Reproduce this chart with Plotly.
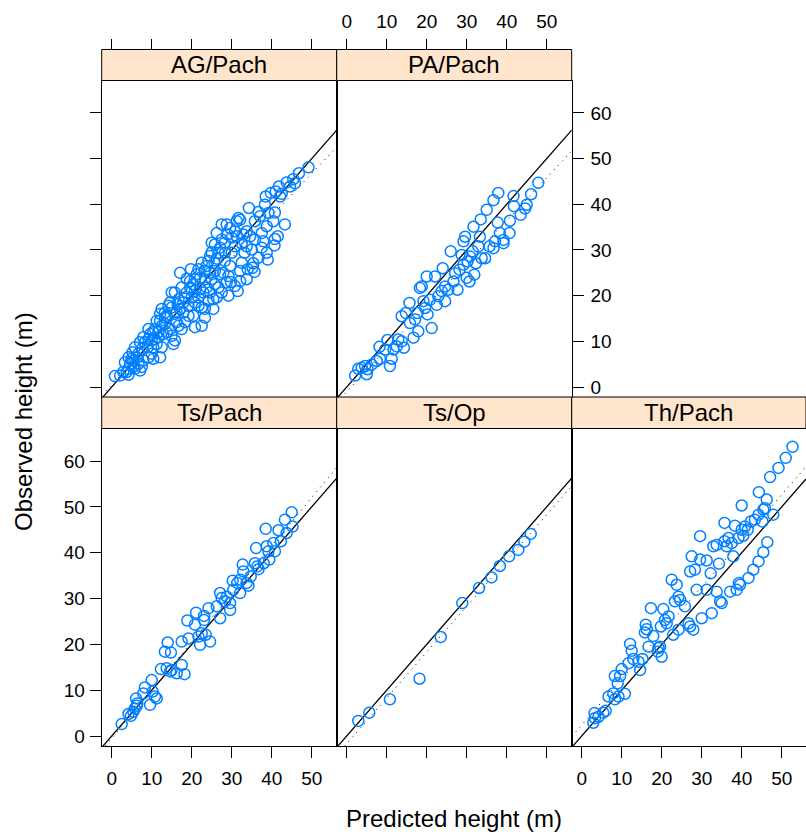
import plotly.graph_objects as go

# ---------------- data ----------------
panel_names = ["AG/Pach", "PA/Pach", "Ts/Pach", "Ts/Op", "Th/Pach"]

ag_pred = [49.2, 46.8, 45.4, 43.75, 41.8, 41.0, 42.5, 39.8, 38.5, 34.3, 36.7, 37.1, 39.2, 40.8, 43.3, 41.5,
           40.8, 40.7, 37.9, 37.5, 38.75, 36.7, 39.0, 35.4, 35.2, 35.7, 35.0, 35.8, 34.6, 33.75, 32.9, 32.1,
           31.7, 31.25, 30.8, 32.5, 33.2, 32.5, 32.1, 31.5, 29.6, 29.0, 28.3, 27.5, 27.1, 26.7, 30.0, 29.6,
           29.2, 29.8, 28.75, 26.25, 25.7, 25.0, 24.6, 24.2, 23.75, 23.2, 22.5, 21.7, 24.6, 25.0, 25.8, 26.7,
           27.1, 27.9, 28.3, 25.4, 24.2, 22.9, 22.1, 20.8, 19.8, 20.4, 19.6, 18.75, 18.3, 20.0, 20.8, 21.7,
           22.5, 23.3, 25.4, 20.8, 20.4, 19.2, 17.9, 17.1, 16.5, 15.8, 16.7, 14.6, 15.0, 15.8, 16.25, 15.4,
           13.75, 13.3, 12.5, 12.1, 11.25, 10.8, 11.7, 12.9, 13.75, 14.6, 15.0, 12.1, 9.6, 10.0, 9.2, 8.3,
           9.0, 10.4, 11.25, 12.5, 7.5, 6.7, 5.8, 6.25, 5.0, 4.6, 5.4, 4.2, 3.75, 6.7, 7.9, 9.2,
           10.0, 10.4, 7.5, 5.8, 2.9, 2.1, 0.8, 4.2, 7.1, 9.2, 10.4, 13.3, 18.75, 17.1, 19.6, 21.25,
           22.1, 15.8, 17.5, 18.3, 16.7, 22.5, 23.3, 24.6, 27.5, 26.25, 29.2, 30.8, 32.1, 33.75, 34.0, 30.0,
           27.5, 26.25, 28.75, 30.8, 33.75, 35.8, 37.5, 38.75, 40.4, 38.3, 42.1, 44.6, 45.8, 20.8, 17.5, 15.0,
           14.2, 12.5, 12.1, 13.3, 10.8, 11.7, 7.1, 7.9, 5.2, 4.2, 3.3, 5.4, 25.8, 23.3, 23.75, 21.7,
           19.2, 17.9, 16.25, 31.25, 28.3, 25.8, 25.0]
ag_obs = [48.1, 46.8, 45.5, 44.8, 43.9, 42.8, 42.3, 42.5, 41.7, 39.2, 38.3, 37.4, 38.1, 38.2, 35.6, 33.0,
          32.4, 31.0, 31.9, 30.5, 29.4, 28.3, 27.9, 27.1, 26.1, 25.2, 30.1, 32.3, 33.0, 34.1, 33.4, 36.6,
          37.0, 36.3, 34.1, 31.4, 29.4, 27.2, 25.4, 21.0, 34.8, 33.4, 31.6, 32.3, 30.5, 29.4, 29.4, 26.5,
          24.3, 23.0, 22.9, 28.1, 27.2, 29.5, 28.7, 27.6, 26.5, 25.4, 27.2, 25.8, 25.0, 23.6, 22.5, 21.8,
          24.7, 25.0, 27.6, 19.2, 18.9, 20.7, 21.4, 23.6, 25.8, 22.5, 21.8, 20.7, 19.4, 19.6, 18.5, 17.8,
          17.4, 17.1, 17.1, 13.1, 15.6, 15.6, 16.3, 17.1, 18.1, 20.7, 19.2, 18.5, 17.4, 16.0, 14.2, 9.4,
          15.6, 13.8, 13.4, 14.5, 14.5, 12.7, 12.0, 11.6, 12.0, 12.7, 11.2, 6.5, 11.6, 10.2, 10.5, 9.8,
          8.7, 8.7, 9.4, 8.7, 8.3, 7.3, 8.7, 6.5, 6.2, 5.1, 4.4, 4.0, 3.3, 5.1, 5.8, 6.5,
          7.3, 6.2, 4.4, 4.0, 3.3, 2.5, 2.4, 2.7, 3.6, 12.7, 12.0, 16.3, 23.7, 25.0, 23.2, 24.7,
          23.9, 10.2, 12.7, 14.2, 13.4, 13.4, 15.2, 20.7, 20.7, 19.6, 20.0, 22.1, 23.2, 23.6, 25.8, 32.7,
          35.6, 33.7, 35.6, 30.8, 30.8, 36.3, 33.7, 35.2, 36.3, 39.9, 41.7, 43.9, 44.6, 21.0, 21.8, 20.7,
          17.8, 17.1, 16.0, 15.2, 10.5, 10.9, 9.8, 10.9, 7.6, 6.5, 5.4, 5.8, 25.4, 23.6, 21.8, 19.6,
          17.8, 18.5, 16.3, 33.0, 29.4, 31.2, 31.6]

pa_pred = [2.1, 2.9, 3.75, 4.6, 5.0, 5.2, 6.25, 7.5, 8.3, 8.2, 9.6, 10.2, 10.8, 11.25, 11.7, 12.5,
           12.9, 13.75, 14.3, 13.75, 14.8, 15.7, 15.8, 16.7, 17.1, 17.7, 17.9, 18.3, 18.75, 19.2, 19.6, 20.0,
           20.2, 20.8, 21.25, 22.1, 22.5, 22.9, 23.75, 24.0, 24.6, 24.6, 25.4, 26.0, 26.7, 27.1, 27.7, 28.2,
           29.2, 28.75, 29.2, 29.6, 30.0, 30.2, 30.7, 30.8, 31.5, 31.7, 31.9, 32.3, 32.9, 33.3, 33.5, 33.75,
           34.6, 35.0, 35.7, 36.7, 37.1, 36.7, 37.75, 37.9, 38.3, 39.2, 39.2, 40.7, 40.8, 41.8, 41.7, 43.5,
           44.6, 46.1, 47.9, 45.0]
pa_obs = [2.5, 4.0, 4.2, 4.6, 2.8, 3.9, 4.9, 5.7, 6.2, 8.8, 8.2, 10.3, 4.6, 6.2, 8.2, 8.9,
          10.4, 10.0, 8.6, 15.5, 16.2, 18.4, 14.0, 10.8, 14.8, 16.2, 12.2, 21.7, 22.0, 18.8, 17.3, 24.2,
          15.9, 19.1, 12.9, 24.2, 18.0, 19.9, 21.0, 26.0, 18.8, 22.0, 21.3, 29.7, 23.1, 24.9, 21.3, 25.7,
          31.9, 28.9, 26.8, 32.9, 23.9, 27.5, 23.1, 28.6, 29.7, 35.1, 24.6, 27.1, 30.8, 32.9, 36.7, 28.2,
          28.2, 38.8, 30.8, 30.4, 31.9, 40.9, 36.0, 42.5, 33.7, 31.5, 32.2, 33.7, 36.4, 39.6, 41.8, 37.7,
          39.1, 42.2, 44.7, 39.9]

tsp_pred = [2.5, 4.2, 4.8, 5.4, 5.8, 6.25, 6.1, 6.4, 8.3, 7.9, 9.6, 10.0, 10.25, 11.25, 10.8, 12.3,
            13.3, 14.0, 14.8, 13.75, 14.6, 15.0, 16.25, 17.5, 18.2, 17.5, 18.9, 19.2, 21.1, 20.8, 21.7, 22.1,
            22.5, 23.1, 23.5, 24.6, 24.2, 23.1, 26.25, 27.1, 27.1, 27.5, 28.3, 28.75, 29.6, 29.6, 30.25, 30.4,
            31.4, 32.1, 32.1, 32.75, 32.9, 33.75, 34.2, 34.75, 35.8, 36.1, 36.4, 36.7, 38.5, 38.75, 39.2, 39.4,
            40.4, 40.8, 41.7, 42.3, 43.3, 43.75, 45.0, 45.2, 38.0]
tsp_obs = [2.6, 4.8, 4.4, 5.3, 6.0, 6.6, 8.2, 7.1, 10.6, 9.3, 6.8, 12.2, 9.7, 8.2, 8.6, 14.6,
           18.4, 20.4, 18.2, 14.8, 14.1, 14.4, 13.7, 15.5, 13.5, 20.6, 25.2, 21.3, 26.9, 24.3, 21.7, 19.9,
           22.4, 25.3, 22.1, 20.6, 27.9, 26.2, 28.3, 25.7, 31.2, 30.1, 29.4, 30.4, 27.5, 29.0, 33.9, 31.9,
           33.4, 34.1, 31.2, 37.4, 35.9, 33.4, 32.8, 34.8, 37.7, 41.0, 37.0, 36.4, 45.2, 41.4, 40.3, 38.5,
           42.1, 40.3, 44.9, 42.5, 47.2, 44.3, 48.8, 45.7, 37.7]

tso_pred = [2.9, 5.65, 10.8, 18.2, 23.5, 28.9, 33.1, 36.2, 38.3, 40.6, 42.9, 44.4, 46.0]
tso_obs = [3.3, 5.1, 8.0, 12.5, 21.6, 29.0, 32.3, 34.6, 37.1, 39.2, 40.6, 42.4, 44.1]

th_pred = [2.9, 3.3, 3.2, 4.2, 5.4, 6.0, 6.7, 7.9, 8.3, 9.2, 9.0, 9.6, 8.3, 10.0, 10.8, 12.1,
           12.5, 11.7, 12.9, 14.6, 14.2, 15.2, 16.0, 15.8, 16.25, 16.7, 17.3, 19.0, 19.6, 20.0, 19.8, 20.4,
           20.8, 21.25, 21.7, 22.5, 23.75, 22.9, 24.2, 23.3, 24.2, 24.6, 25.8, 26.7, 27.1, 27.9, 27.5, 27.1,
           28.3, 29.6, 28.75, 29.6, 30.0, 31.25, 31.25, 32.5, 32.25, 32.9, 33.75, 33.75, 34.3, 34.6, 35.0, 35.7,
           35.7, 36.25, 36.7, 37.1, 37.5, 37.9, 38.3, 38.75, 39.2, 39.3, 39.6, 40.0, 40.4, 40.8, 41.7, 41.5,
           42.3, 42.9, 43.3, 44.2, 44.3, 44.2, 45.2, 45.4, 45.4, 45.8, 46.25, 46.4, 47.1, 47.9, 40.0, 49.2,
           51.0, 52.7, 17.9, 19.2]
th_obs = [2.9, 3.9, 5.0, 4.2, 5.1, 5.5, 8.6, 9.3, 8.0, 8.6, 11.5, 13.1, 13.1, 14.6, 9.2, 20.1,
          18.6, 15.9, 16.8, 14.4, 16.2, 16.8, 24.3, 22.6, 23.3, 19.5, 27.9, 18.4, 19.5, 17.3, 23.9, 27.7,
          25.3, 24.6, 26.1, 34.1, 33.0, 22.1, 23.2, 29.4, 30.4, 29.7, 28.3, 24.6, 23.9, 23.2, 39.2, 35.9,
          36.3, 38.5, 31.9, 43.6, 25.7, 38.3, 31.9, 26.8, 35.5, 41.4, 41.7, 31.5, 37.6, 29.4, 29.0, 46.5,
          42.5, 41.4, 43.2, 31.5, 42.1, 39.2, 45.9, 31.9, 43.2, 33.4, 33.0, 45.0, 43.7, 45.7, 34.5, 45.0,
          46.8, 36.3, 47.2, 48.3, 53.2, 38.1, 46.8, 40.1, 49.4, 49.7, 51.6, 42.3, 56.5, 48.3, 50.3, 58.5,
          60.7, 63.1, 21.8, 19.2]

panel_pred = [ag_pred, pa_pred, tsp_pred, tso_pred, th_pred]
panel_obs = [ag_obs, pa_obs, tsp_obs, tso_obs, th_obs]

# dotted fitted line per panel (intercept, slope)
fit_intercept = [0.5, -1.0, -0.5, -1.7, 2.4]
fit_slope = [0.925, 0.936, 1.05, 1.0, 1.005]

x_ticks = [0, 10, 20, 30, 40, 50]
y_ticks = [0, 10, 20, 30, 40, 50, 60]

# ---------------- layout geometry ----------------
W, H = 806, 834
col_px = [(101.7, 336.7), (336.7, 571.7), (571.7, 806.0)]
top_strip = (49.5, 80.5)
top_panel = (80.5, 397.0)
bot_strip = (397.0, 428.5)
bot_panel = (428.5, 746.0)
X_PER_PX = 0.25
XMIN = -2.5
YRANGE = [-2.18, 67.1]

# panel -> (column, row) ; row 0 = top
pos = [(0, 0), (1, 0), (0, 1), (1, 1), (2, 1)]


def fx(px):
    return px / W


def fy(py):
    return 1 - py / H


FONT = "Liberation Sans, Arial, Helvetica, sans-serif"
TICKFONT = dict(family=FONT, size=19, color="black")
fig = go.Figure()
shapes = []
annotations = []

axis_cfg = {
    # (x side, x labels, x ticks, y side, y labels, y ticks)
    0: ("top", False, True, "left", False, True),
    1: ("top", True, True, "right", True, True),
    2: ("bottom", True, True, "left", True, True),
    3: ("bottom", False, True, "left", False, False),
    4: ("bottom", True, True, "right", False, True),
}

extra_axis_num = 6
for i, name in enumerate(panel_names):
    c, r = pos[i]
    x0p, x1p = col_px[c]
    py0, py1 = (top_panel if r == 0 else bot_panel)
    sy0, sy1 = (top_strip if r == 0 else bot_strip)
    xr = [XMIN, XMIN + (x1p - x0p) * X_PER_PX]
    k = "" if i == 0 else str(i + 1)
    xs, xl, xt, ys, yl, yt = axis_cfg[i]
    top_row = (r == 0)

    fig.update_layout(**{
        "xaxis" + k: dict(domain=[fx(x0p), fx(x1p)], range=xr, anchor="y" + k, automargin=False,
                          side="bottom", showgrid=False, zeroline=False,
                          showline=True, mirror=True, linecolor="black", linewidth=1,
                          ticks="" if top_row else "outside", ticklen=11, tickwidth=1,
                          tickcolor="black", tickvals=x_ticks, ticklabelstandoff=4,
                          showticklabels=(xl and not top_row), tickfont=TICKFONT),
        "yaxis" + k: dict(domain=[fy(py1), fy(py0)], range=YRANGE, anchor="x" + k, automargin=False,
                          side=ys, showgrid=False, zeroline=False,
                          showline=True, mirror=True, linecolor="black", linewidth=1,
                          ticks="outside" if yt else "", ticklen=11, tickwidth=1, tickcolor="black",
                          tickvals=y_ticks, showticklabels=yl, tickfont=TICKFONT,
                          ticklabelstandoff=3 if ys == "right" else 1),
    })

    if top_row:
        # top axis drawn above the strip, as in lattice
        n = str(extra_axis_num)
        extra_axis_num += 1
        fig.update_layout(**{
            "xaxis" + n: dict(domain=[fx(x0p), fx(x1p)], range=xr, overlaying="x" + k,
                              anchor="free", position=fy(sy0), side="top", automargin=False,
                              showgrid=False, zeroline=False, showline=False,
                              ticks="outside", ticklen=11, tickwidth=1, tickcolor="black",
                              tickvals=x_ticks, showticklabels=xl, tickfont=TICKFONT,
                              ticklabelstandoff=3),
        })
        fig.add_trace(go.Scatter(x=[], y=[], xaxis="x" + n, yaxis="y" + k, mode="markers",
                                 showlegend=False, hoverinfo="skip"))

    # identity line (solid) across panel range
    fig.add_trace(go.Scatter(x=xr, y=xr, mode="lines", xaxis="x" + k, yaxis="y" + k,
                             line=dict(color="black", width=1.3), showlegend=False, hoverinfo="skip"))
    # fitted line (dotted)
    fit_vals = [fit_intercept[i] + fit_slope[i] * v for v in xr]
    fig.add_trace(go.Scatter(x=xr, y=fit_vals, mode="lines", xaxis="x" + k, yaxis="y" + k,
                             line=dict(color="black", width=1, dash="1px,5px"),
                             showlegend=False, hoverinfo="skip"))
    # points
    fig.add_trace(go.Scatter(x=panel_pred[i], y=panel_obs[i], mode="markers",
                             xaxis="x" + k, yaxis="y" + k,
                             marker=dict(symbol="circle-open", size=11, color="#0080ff",
                                         line=dict(width=1.5, color="#0080ff")),
                             showlegend=False, cliponaxis=False))

    # strip
    shapes.append(dict(type="rect", xref="paper", yref="paper",
                       x0=fx(x0p), x1=fx(x1p), y0=fy(sy1), y1=fy(sy0),
                       fillcolor="#ffe5cc", line=dict(color="black", width=1), layer="above"))
    annotations.append(dict(text=name, xref="paper", yref="paper",
                            x=fx((x0p + x1p) / 2), y=fy((sy0 + sy1) / 2),
                            xanchor="center", yanchor="middle", showarrow=False,
                            font=dict(family=FONT, size=24, color="black")))

annotations.append(dict(text="Predicted height (m)", xref="paper", yref="paper",
                        x=fx(454), y=fy(818), xanchor="center", yanchor="middle", showarrow=False,
                        font=dict(family=FONT, size=24, color="black")))
annotations.append(dict(text="Observed height (m)", xref="paper", yref="paper",
                        x=fx(24), y=fy(422), xanchor="center", yanchor="middle", showarrow=False,
                        textangle=-90, font=dict(family=FONT, size=24, color="black")))

fig.update_layout(width=W, height=H, autosize=False, margin=dict(l=0, r=0, t=0, b=0, autoexpand=False),
                  paper_bgcolor="white", plot_bgcolor="white",
                  shapes=shapes, annotations=annotations, showlegend=False)

post = ("document.documentElement.style.overflow='hidden';"
        "document.body.style.margin='0px';document.body.style.overflow='hidden';"
        "var gd=document.getElementById('{plot_id}');"
        "Plotly.relayout(gd,{width:%d,height:%d});" % (W, H))

fig.write_html("out.html", config={"displayModeBar": False, "responsive": False},
               post_script=post)
